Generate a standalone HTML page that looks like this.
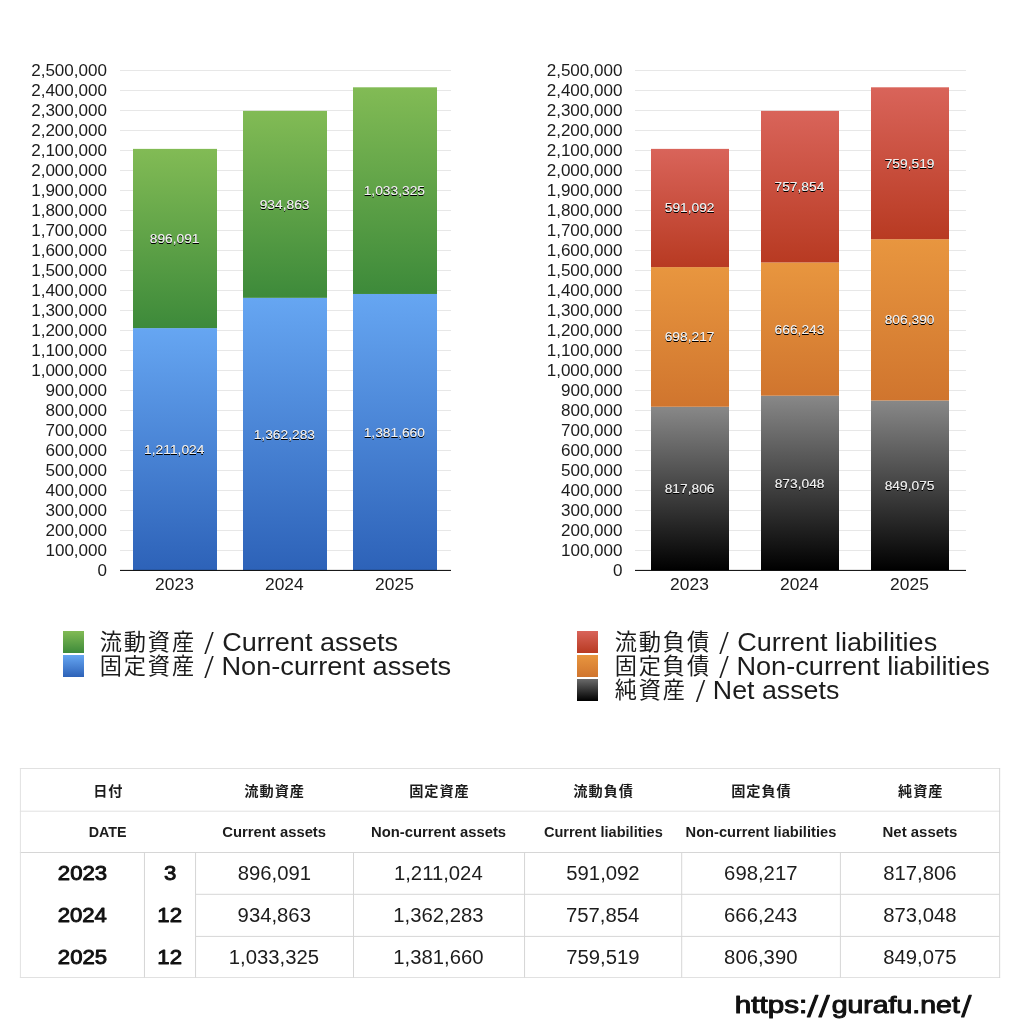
<!DOCTYPE html>
<html lang="ja"><head><meta charset="utf-8"><title>Balance sheet</title>
<style>html,body{margin:0;padding:0;background:#fff}svg{display:block}text{font-family:"Liberation Sans","Noto Sans CJK JP",sans-serif;white-space:pre}</style></head>
<body><svg width="1024" height="1024" viewBox="0 0 1024 1024"><defs><linearGradient id="gG" x1="0" y1="0" x2="0" y2="1"><stop offset="0" stop-color="#82bb55"/><stop offset="1" stop-color="#3d8a3a"/></linearGradient><linearGradient id="gB" x1="0" y1="0" x2="0" y2="1"><stop offset="0" stop-color="#66a6f2"/><stop offset="1" stop-color="#2d62b8"/></linearGradient><linearGradient id="gR" x1="0" y1="0" x2="0" y2="1"><stop offset="0" stop-color="#d9645a"/><stop offset="1" stop-color="#b83a22"/></linearGradient><linearGradient id="gO" x1="0" y1="0" x2="0" y2="1"><stop offset="0" stop-color="#e8963f"/><stop offset="1" stop-color="#d0752e"/></linearGradient><linearGradient id="gK" x1="0" y1="0" x2="0" y2="1"><stop offset="0" stop-color="#888888"/><stop offset="1" stop-color="#000000"/></linearGradient><linearGradient id="gK2" x1="0" y1="0" x2="0" y2="1"><stop offset="0" stop-color="#6a6a6a"/><stop offset="1" stop-color="#000000"/></linearGradient><filter id="sh" x="-20%" y="-50%" width="140%" height="200%"><feGaussianBlur in="SourceAlpha" stdDeviation="0.75" result="b"/><feOffset in="b" dx="0" dy="0.7" result="o"/><feComponentTransfer in="o" result="s"><feFuncA type="linear" slope="1.6"/></feComponentTransfer><feMerge><feMergeNode in="s"/><feMergeNode in="SourceGraphic"/></feMerge></filter></defs>
<rect width="1024" height="1024" fill="#fff"/>
<rect x="120.00" y="70.00" width="331.00" height="1.00" fill="#e7e7e7" />
<rect x="120.00" y="90.00" width="331.00" height="1.00" fill="#e7e7e7" />
<rect x="120.00" y="110.00" width="331.00" height="1.00" fill="#e7e7e7" />
<rect x="120.00" y="130.00" width="331.00" height="1.00" fill="#e7e7e7" />
<rect x="120.00" y="150.00" width="331.00" height="1.00" fill="#e7e7e7" />
<rect x="120.00" y="170.00" width="331.00" height="1.00" fill="#e7e7e7" />
<rect x="120.00" y="190.00" width="331.00" height="1.00" fill="#e7e7e7" />
<rect x="120.00" y="210.00" width="331.00" height="1.00" fill="#e7e7e7" />
<rect x="120.00" y="230.00" width="331.00" height="1.00" fill="#e7e7e7" />
<rect x="120.00" y="250.00" width="331.00" height="1.00" fill="#e7e7e7" />
<rect x="120.00" y="270.00" width="331.00" height="1.00" fill="#e7e7e7" />
<rect x="120.00" y="290.00" width="331.00" height="1.00" fill="#e7e7e7" />
<rect x="120.00" y="310.00" width="331.00" height="1.00" fill="#e7e7e7" />
<rect x="120.00" y="330.00" width="331.00" height="1.00" fill="#e7e7e7" />
<rect x="120.00" y="350.00" width="331.00" height="1.00" fill="#e7e7e7" />
<rect x="120.00" y="370.00" width="331.00" height="1.00" fill="#e7e7e7" />
<rect x="120.00" y="390.00" width="331.00" height="1.00" fill="#e7e7e7" />
<rect x="120.00" y="410.00" width="331.00" height="1.00" fill="#e7e7e7" />
<rect x="120.00" y="430.00" width="331.00" height="1.00" fill="#e7e7e7" />
<rect x="120.00" y="450.00" width="331.00" height="1.00" fill="#e7e7e7" />
<rect x="120.00" y="470.00" width="331.00" height="1.00" fill="#e7e7e7" />
<rect x="120.00" y="490.00" width="331.00" height="1.00" fill="#e7e7e7" />
<rect x="120.00" y="510.00" width="331.00" height="1.00" fill="#e7e7e7" />
<rect x="120.00" y="530.00" width="331.00" height="1.00" fill="#e7e7e7" />
<rect x="120.00" y="550.00" width="331.00" height="1.00" fill="#e7e7e7" />
<text x="31.16" y="75.60" font-size="15.80" font-weight="400" fill="#1c1c1c" textLength="75.91" lengthAdjust="spacingAndGlyphs" >2,500,000</text>
<text x="31.16" y="95.60" font-size="15.80" font-weight="400" fill="#1c1c1c" textLength="75.91" lengthAdjust="spacingAndGlyphs" >2,400,000</text>
<text x="31.16" y="115.60" font-size="15.80" font-weight="400" fill="#1c1c1c" textLength="75.91" lengthAdjust="spacingAndGlyphs" >2,300,000</text>
<text x="31.16" y="135.60" font-size="15.80" font-weight="400" fill="#1c1c1c" textLength="75.91" lengthAdjust="spacingAndGlyphs" >2,200,000</text>
<text x="31.16" y="155.60" font-size="15.80" font-weight="400" fill="#1c1c1c" textLength="75.91" lengthAdjust="spacingAndGlyphs" >2,100,000</text>
<text x="31.16" y="175.60" font-size="15.80" font-weight="400" fill="#1c1c1c" textLength="75.91" lengthAdjust="spacingAndGlyphs" >2,000,000</text>
<text x="31.16" y="195.60" font-size="15.80" font-weight="400" fill="#1c1c1c" textLength="75.91" lengthAdjust="spacingAndGlyphs" >1,900,000</text>
<text x="31.16" y="215.60" font-size="15.80" font-weight="400" fill="#1c1c1c" textLength="75.91" lengthAdjust="spacingAndGlyphs" >1,800,000</text>
<text x="31.16" y="235.60" font-size="15.80" font-weight="400" fill="#1c1c1c" textLength="75.91" lengthAdjust="spacingAndGlyphs" >1,700,000</text>
<text x="31.16" y="255.60" font-size="15.80" font-weight="400" fill="#1c1c1c" textLength="75.91" lengthAdjust="spacingAndGlyphs" >1,600,000</text>
<text x="31.16" y="275.60" font-size="15.80" font-weight="400" fill="#1c1c1c" textLength="75.91" lengthAdjust="spacingAndGlyphs" >1,500,000</text>
<text x="31.16" y="295.60" font-size="15.80" font-weight="400" fill="#1c1c1c" textLength="75.91" lengthAdjust="spacingAndGlyphs" >1,400,000</text>
<text x="31.16" y="315.60" font-size="15.80" font-weight="400" fill="#1c1c1c" textLength="75.91" lengthAdjust="spacingAndGlyphs" >1,300,000</text>
<text x="31.16" y="335.60" font-size="15.80" font-weight="400" fill="#1c1c1c" textLength="75.91" lengthAdjust="spacingAndGlyphs" >1,200,000</text>
<text x="31.16" y="355.60" font-size="15.80" font-weight="400" fill="#1c1c1c" textLength="75.91" lengthAdjust="spacingAndGlyphs" >1,100,000</text>
<text x="31.16" y="375.60" font-size="15.80" font-weight="400" fill="#1c1c1c" textLength="75.91" lengthAdjust="spacingAndGlyphs" >1,000,000</text>
<text x="45.41" y="395.60" font-size="15.80" font-weight="400" fill="#1c1c1c" textLength="61.68" lengthAdjust="spacingAndGlyphs" >900,000</text>
<text x="45.41" y="415.60" font-size="15.80" font-weight="400" fill="#1c1c1c" textLength="61.68" lengthAdjust="spacingAndGlyphs" >800,000</text>
<text x="45.41" y="435.60" font-size="15.80" font-weight="400" fill="#1c1c1c" textLength="61.68" lengthAdjust="spacingAndGlyphs" >700,000</text>
<text x="45.41" y="455.60" font-size="15.80" font-weight="400" fill="#1c1c1c" textLength="61.68" lengthAdjust="spacingAndGlyphs" >600,000</text>
<text x="45.41" y="475.60" font-size="15.80" font-weight="400" fill="#1c1c1c" textLength="61.68" lengthAdjust="spacingAndGlyphs" >500,000</text>
<text x="45.41" y="495.60" font-size="15.80" font-weight="400" fill="#1c1c1c" textLength="61.68" lengthAdjust="spacingAndGlyphs" >400,000</text>
<text x="45.41" y="515.60" font-size="15.80" font-weight="400" fill="#1c1c1c" textLength="61.68" lengthAdjust="spacingAndGlyphs" >300,000</text>
<text x="45.41" y="535.60" font-size="15.80" font-weight="400" fill="#1c1c1c" textLength="61.68" lengthAdjust="spacingAndGlyphs" >200,000</text>
<text x="45.41" y="555.60" font-size="15.80" font-weight="400" fill="#1c1c1c" textLength="61.68" lengthAdjust="spacingAndGlyphs" >100,000</text>
<text x="97.63" y="575.60" font-size="15.80" font-weight="400" fill="#1c1c1c" textLength="9.49" lengthAdjust="spacingAndGlyphs" >0</text>
<rect x="133.00" y="328.10" width="84.00" height="242.20" fill="url(#gB)" />
<rect x="133.00" y="148.88" width="84.00" height="179.22" fill="url(#gG)" />
<rect x="243.00" y="297.84" width="84.00" height="272.46" fill="url(#gB)" />
<rect x="243.00" y="110.87" width="84.00" height="186.97" fill="url(#gG)" />
<rect x="353.00" y="293.97" width="84.00" height="276.33" fill="url(#gB)" />
<rect x="353.00" y="87.30" width="84.00" height="206.67" fill="url(#gG)" />
<rect x="120.00" y="569.90" width="331.00" height="1.00" fill="#000" />
<text x="144.11" y="453.70" font-size="13.00" font-weight="400" fill="#fff" textLength="60.28" lengthAdjust="spacingAndGlyphs" fill-opacity="0.88" filter="url(#sh)">1,211,024</text>
<text x="149.73" y="242.99" font-size="13.00" font-weight="400" fill="#fff" textLength="49.81" lengthAdjust="spacingAndGlyphs" fill-opacity="0.88" filter="url(#sh)">896,091</text>
<text x="155.09" y="589.70" font-size="16.20" font-weight="400" fill="#1c1c1c" textLength="38.74" lengthAdjust="spacingAndGlyphs" >2023</text>
<text x="253.70" y="438.57" font-size="13.00" font-weight="400" fill="#fff" textLength="61.30" lengthAdjust="spacingAndGlyphs" fill-opacity="0.88" filter="url(#sh)">1,362,283</text>
<text x="259.66" y="208.86" font-size="13.00" font-weight="400" fill="#fff" textLength="49.81" lengthAdjust="spacingAndGlyphs" fill-opacity="0.88" filter="url(#sh)">934,863</text>
<text x="264.96" y="589.70" font-size="16.20" font-weight="400" fill="#1c1c1c" textLength="38.74" lengthAdjust="spacingAndGlyphs" >2024</text>
<text x="363.66" y="436.63" font-size="13.00" font-weight="400" fill="#fff" textLength="61.30" lengthAdjust="spacingAndGlyphs" fill-opacity="0.88" filter="url(#sh)">1,381,660</text>
<text x="363.70" y="195.14" font-size="13.00" font-weight="400" fill="#fff" textLength="61.30" lengthAdjust="spacingAndGlyphs" fill-opacity="0.88" filter="url(#sh)">1,033,325</text>
<text x="375.09" y="589.70" font-size="16.20" font-weight="400" fill="#1c1c1c" textLength="38.74" lengthAdjust="spacingAndGlyphs" >2025</text>
<rect x="635.00" y="70.00" width="331.00" height="1.00" fill="#e7e7e7" />
<rect x="635.00" y="90.00" width="331.00" height="1.00" fill="#e7e7e7" />
<rect x="635.00" y="110.00" width="331.00" height="1.00" fill="#e7e7e7" />
<rect x="635.00" y="130.00" width="331.00" height="1.00" fill="#e7e7e7" />
<rect x="635.00" y="150.00" width="331.00" height="1.00" fill="#e7e7e7" />
<rect x="635.00" y="170.00" width="331.00" height="1.00" fill="#e7e7e7" />
<rect x="635.00" y="190.00" width="331.00" height="1.00" fill="#e7e7e7" />
<rect x="635.00" y="210.00" width="331.00" height="1.00" fill="#e7e7e7" />
<rect x="635.00" y="230.00" width="331.00" height="1.00" fill="#e7e7e7" />
<rect x="635.00" y="250.00" width="331.00" height="1.00" fill="#e7e7e7" />
<rect x="635.00" y="270.00" width="331.00" height="1.00" fill="#e7e7e7" />
<rect x="635.00" y="290.00" width="331.00" height="1.00" fill="#e7e7e7" />
<rect x="635.00" y="310.00" width="331.00" height="1.00" fill="#e7e7e7" />
<rect x="635.00" y="330.00" width="331.00" height="1.00" fill="#e7e7e7" />
<rect x="635.00" y="350.00" width="331.00" height="1.00" fill="#e7e7e7" />
<rect x="635.00" y="370.00" width="331.00" height="1.00" fill="#e7e7e7" />
<rect x="635.00" y="390.00" width="331.00" height="1.00" fill="#e7e7e7" />
<rect x="635.00" y="410.00" width="331.00" height="1.00" fill="#e7e7e7" />
<rect x="635.00" y="430.00" width="331.00" height="1.00" fill="#e7e7e7" />
<rect x="635.00" y="450.00" width="331.00" height="1.00" fill="#e7e7e7" />
<rect x="635.00" y="470.00" width="331.00" height="1.00" fill="#e7e7e7" />
<rect x="635.00" y="490.00" width="331.00" height="1.00" fill="#e7e7e7" />
<rect x="635.00" y="510.00" width="331.00" height="1.00" fill="#e7e7e7" />
<rect x="635.00" y="530.00" width="331.00" height="1.00" fill="#e7e7e7" />
<rect x="635.00" y="550.00" width="331.00" height="1.00" fill="#e7e7e7" />
<text x="546.66" y="75.60" font-size="15.80" font-weight="400" fill="#1c1c1c" textLength="75.91" lengthAdjust="spacingAndGlyphs" >2,500,000</text>
<text x="546.66" y="95.60" font-size="15.80" font-weight="400" fill="#1c1c1c" textLength="75.91" lengthAdjust="spacingAndGlyphs" >2,400,000</text>
<text x="546.66" y="115.60" font-size="15.80" font-weight="400" fill="#1c1c1c" textLength="75.91" lengthAdjust="spacingAndGlyphs" >2,300,000</text>
<text x="546.66" y="135.60" font-size="15.80" font-weight="400" fill="#1c1c1c" textLength="75.91" lengthAdjust="spacingAndGlyphs" >2,200,000</text>
<text x="546.66" y="155.60" font-size="15.80" font-weight="400" fill="#1c1c1c" textLength="75.91" lengthAdjust="spacingAndGlyphs" >2,100,000</text>
<text x="546.66" y="175.60" font-size="15.80" font-weight="400" fill="#1c1c1c" textLength="75.91" lengthAdjust="spacingAndGlyphs" >2,000,000</text>
<text x="546.66" y="195.60" font-size="15.80" font-weight="400" fill="#1c1c1c" textLength="75.91" lengthAdjust="spacingAndGlyphs" >1,900,000</text>
<text x="546.66" y="215.60" font-size="15.80" font-weight="400" fill="#1c1c1c" textLength="75.91" lengthAdjust="spacingAndGlyphs" >1,800,000</text>
<text x="546.66" y="235.60" font-size="15.80" font-weight="400" fill="#1c1c1c" textLength="75.91" lengthAdjust="spacingAndGlyphs" >1,700,000</text>
<text x="546.66" y="255.60" font-size="15.80" font-weight="400" fill="#1c1c1c" textLength="75.91" lengthAdjust="spacingAndGlyphs" >1,600,000</text>
<text x="546.66" y="275.60" font-size="15.80" font-weight="400" fill="#1c1c1c" textLength="75.91" lengthAdjust="spacingAndGlyphs" >1,500,000</text>
<text x="546.66" y="295.60" font-size="15.80" font-weight="400" fill="#1c1c1c" textLength="75.91" lengthAdjust="spacingAndGlyphs" >1,400,000</text>
<text x="546.66" y="315.60" font-size="15.80" font-weight="400" fill="#1c1c1c" textLength="75.91" lengthAdjust="spacingAndGlyphs" >1,300,000</text>
<text x="546.66" y="335.60" font-size="15.80" font-weight="400" fill="#1c1c1c" textLength="75.91" lengthAdjust="spacingAndGlyphs" >1,200,000</text>
<text x="546.66" y="355.60" font-size="15.80" font-weight="400" fill="#1c1c1c" textLength="75.91" lengthAdjust="spacingAndGlyphs" >1,100,000</text>
<text x="546.66" y="375.60" font-size="15.80" font-weight="400" fill="#1c1c1c" textLength="75.91" lengthAdjust="spacingAndGlyphs" >1,000,000</text>
<text x="560.91" y="395.60" font-size="15.80" font-weight="400" fill="#1c1c1c" textLength="61.68" lengthAdjust="spacingAndGlyphs" >900,000</text>
<text x="560.91" y="415.60" font-size="15.80" font-weight="400" fill="#1c1c1c" textLength="61.68" lengthAdjust="spacingAndGlyphs" >800,000</text>
<text x="560.91" y="435.60" font-size="15.80" font-weight="400" fill="#1c1c1c" textLength="61.68" lengthAdjust="spacingAndGlyphs" >700,000</text>
<text x="560.91" y="455.60" font-size="15.80" font-weight="400" fill="#1c1c1c" textLength="61.68" lengthAdjust="spacingAndGlyphs" >600,000</text>
<text x="560.91" y="475.60" font-size="15.80" font-weight="400" fill="#1c1c1c" textLength="61.68" lengthAdjust="spacingAndGlyphs" >500,000</text>
<text x="560.91" y="495.60" font-size="15.80" font-weight="400" fill="#1c1c1c" textLength="61.68" lengthAdjust="spacingAndGlyphs" >400,000</text>
<text x="560.91" y="515.60" font-size="15.80" font-weight="400" fill="#1c1c1c" textLength="61.68" lengthAdjust="spacingAndGlyphs" >300,000</text>
<text x="560.91" y="535.60" font-size="15.80" font-weight="400" fill="#1c1c1c" textLength="61.68" lengthAdjust="spacingAndGlyphs" >200,000</text>
<text x="560.91" y="555.60" font-size="15.80" font-weight="400" fill="#1c1c1c" textLength="61.68" lengthAdjust="spacingAndGlyphs" >100,000</text>
<text x="613.13" y="575.60" font-size="15.80" font-weight="400" fill="#1c1c1c" textLength="9.49" lengthAdjust="spacingAndGlyphs" >0</text>
<rect x="651.00" y="406.74" width="78.00" height="163.56" fill="url(#gK)" />
<rect x="651.00" y="267.10" width="78.00" height="139.64" fill="url(#gO)" />
<rect x="651.00" y="148.88" width="78.00" height="118.22" fill="url(#gR)" />
<rect x="761.00" y="395.69" width="78.00" height="174.61" fill="url(#gK)" />
<rect x="761.00" y="262.44" width="78.00" height="133.25" fill="url(#gO)" />
<rect x="761.00" y="110.87" width="78.00" height="151.57" fill="url(#gR)" />
<rect x="871.00" y="400.48" width="78.00" height="169.81" fill="url(#gK)" />
<rect x="871.00" y="239.21" width="78.00" height="161.28" fill="url(#gO)" />
<rect x="871.00" y="87.30" width="78.00" height="151.90" fill="url(#gR)" />
<rect x="635.00" y="569.90" width="331.00" height="1.00" fill="#000" />
<text x="664.69" y="493.02" font-size="13.00" font-weight="400" fill="#fff" textLength="49.81" lengthAdjust="spacingAndGlyphs" fill-opacity="0.88" filter="url(#sh)">817,806</text>
<text x="664.66" y="341.42" font-size="13.00" font-weight="400" fill="#fff" textLength="49.81" lengthAdjust="spacingAndGlyphs" fill-opacity="0.88" filter="url(#sh)">698,217</text>
<text x="664.73" y="212.49" font-size="13.00" font-weight="400" fill="#fff" textLength="49.81" lengthAdjust="spacingAndGlyphs" fill-opacity="0.88" filter="url(#sh)">591,092</text>
<text x="670.09" y="589.70" font-size="16.20" font-weight="400" fill="#1c1c1c" textLength="38.74" lengthAdjust="spacingAndGlyphs" >2023</text>
<text x="774.69" y="487.50" font-size="13.00" font-weight="400" fill="#fff" textLength="49.81" lengthAdjust="spacingAndGlyphs" fill-opacity="0.88" filter="url(#sh)">873,048</text>
<text x="774.62" y="333.57" font-size="13.00" font-weight="400" fill="#fff" textLength="49.81" lengthAdjust="spacingAndGlyphs" fill-opacity="0.88" filter="url(#sh)">666,243</text>
<text x="774.52" y="191.16" font-size="13.00" font-weight="400" fill="#fff" textLength="49.81" lengthAdjust="spacingAndGlyphs" fill-opacity="0.88" filter="url(#sh)">757,854</text>
<text x="779.96" y="589.70" font-size="16.20" font-weight="400" fill="#1c1c1c" textLength="38.74" lengthAdjust="spacingAndGlyphs" >2024</text>
<text x="884.69" y="489.89" font-size="13.00" font-weight="400" fill="#fff" textLength="49.81" lengthAdjust="spacingAndGlyphs" fill-opacity="0.88" filter="url(#sh)">849,075</text>
<text x="884.66" y="324.35" font-size="13.00" font-weight="400" fill="#fff" textLength="49.81" lengthAdjust="spacingAndGlyphs" fill-opacity="0.88" filter="url(#sh)">806,390</text>
<text x="884.66" y="167.76" font-size="13.00" font-weight="400" fill="#fff" textLength="49.81" lengthAdjust="spacingAndGlyphs" fill-opacity="0.88" filter="url(#sh)">759,519</text>
<text x="890.09" y="589.70" font-size="16.20" font-weight="400" fill="#1c1c1c" textLength="38.74" lengthAdjust="spacingAndGlyphs" >2025</text>
<rect x="63.00" y="631.00" width="21.00" height="22.00" fill="url(#gG)" />
<text x="99.70" y="650.30" font-size="22.20" font-weight="400" fill="#1c1c1c" text-anchor="start" letter-spacing="1.9">流動資産</text>
<text x="204.00" y="650.30" font-size="22.6" fill="#1c1c1c" style="font-family:'Noto Sans CJK JP','Liberation Sans',sans-serif" textLength="10.12" lengthAdjust="spacingAndGlyphs">/</text>
<text x="222.25" y="650.50" font-size="25.30" font-weight="400" fill="#1c1c1c" textLength="175.83" lengthAdjust="spacingAndGlyphs" >Current assets</text>
<rect x="63.00" y="655.00" width="21.00" height="22.00" fill="url(#gB)" />
<text x="99.70" y="674.30" font-size="22.20" font-weight="400" fill="#1c1c1c" text-anchor="start" letter-spacing="1.9">固定資産</text>
<text x="204.00" y="674.30" font-size="22.6" fill="#1c1c1c" style="font-family:'Noto Sans CJK JP','Liberation Sans',sans-serif" textLength="10.12" lengthAdjust="spacingAndGlyphs">/</text>
<text x="221.42" y="674.50" font-size="25.30" font-weight="400" fill="#1c1c1c" textLength="229.77" lengthAdjust="spacingAndGlyphs" >Non-current assets</text>
<rect x="577.00" y="631.00" width="21.00" height="22.00" fill="url(#gR)" />
<text x="614.70" y="650.30" font-size="22.20" font-weight="400" fill="#1c1c1c" text-anchor="start" letter-spacing="1.9">流動負債</text>
<text x="719.00" y="650.30" font-size="22.6" fill="#1c1c1c" style="font-family:'Noto Sans CJK JP','Liberation Sans',sans-serif" textLength="10.12" lengthAdjust="spacingAndGlyphs">/</text>
<text x="737.25" y="650.50" font-size="25.30" font-weight="400" fill="#1c1c1c" textLength="199.95" lengthAdjust="spacingAndGlyphs" >Current liabilities</text>
<rect x="577.00" y="655.00" width="21.00" height="22.00" fill="url(#gO)" />
<text x="614.70" y="674.30" font-size="22.20" font-weight="400" fill="#1c1c1c" text-anchor="start" letter-spacing="1.9">固定負債</text>
<text x="719.00" y="674.30" font-size="22.6" fill="#1c1c1c" style="font-family:'Noto Sans CJK JP','Liberation Sans',sans-serif" textLength="10.12" lengthAdjust="spacingAndGlyphs">/</text>
<text x="736.43" y="674.50" font-size="25.30" font-weight="400" fill="#1c1c1c" textLength="253.38" lengthAdjust="spacingAndGlyphs" >Non-current liabilities</text>
<rect x="577.00" y="679.00" width="21.00" height="22.00" fill="url(#gK2)" />
<text x="614.70" y="698.30" font-size="22.20" font-weight="400" fill="#1c1c1c" text-anchor="start" letter-spacing="1.9">純資産</text>
<text x="695.50" y="698.30" font-size="22.6" fill="#1c1c1c" style="font-family:'Noto Sans CJK JP','Liberation Sans',sans-serif" textLength="10.12" lengthAdjust="spacingAndGlyphs">/</text>
<text x="712.86" y="698.50" font-size="25.30" font-weight="400" fill="#1c1c1c" textLength="126.46" lengthAdjust="spacingAndGlyphs" >Net assets</text>
<rect x="19.90" y="768.00" width="980.20" height="1.00" fill="#e1e1e1" />
<rect x="19.90" y="810.70" width="980.20" height="1.00" fill="#e1e1e1" />
<rect x="19.90" y="852.00" width="980.20" height="1.00" fill="#d6d6d6" />
<rect x="19.90" y="977.00" width="980.20" height="1.00" fill="#e1e1e1" />
<rect x="195.55" y="893.80" width="804.10" height="1.00" fill="#d6d6d6" />
<rect x="195.55" y="935.90" width="804.10" height="1.00" fill="#d6d6d6" />
<rect x="19.90" y="768.00" width="1.00" height="210.00" fill="#e1e1e1" />
<rect x="999.15" y="768.00" width="1.00" height="210.00" fill="#d6d6d6" />
<rect x="143.95" y="852.50" width="1.00" height="125.00" fill="#d6d6d6" />
<rect x="195.05" y="852.50" width="1.00" height="125.00" fill="#d6d6d6" />
<rect x="353.00" y="852.50" width="1.00" height="125.00" fill="#d6d6d6" />
<rect x="524.05" y="852.50" width="1.00" height="125.00" fill="#d6d6d6" />
<rect x="681.20" y="852.50" width="1.00" height="125.00" fill="#d6d6d6" />
<rect x="839.90" y="852.50" width="1.00" height="125.00" fill="#d6d6d6" />
<text x="108.35" y="795.50" font-size="14.20" font-weight="700" fill="#1c1c1c" text-anchor="middle" letter-spacing="0.95">日付</text>
<text x="88.77" y="837.00" font-size="15.00" font-weight="700" fill="#1c1c1c" textLength="37.87" lengthAdjust="spacingAndGlyphs" >DATE</text>
<text x="274.65" y="795.50" font-size="14.20" font-weight="700" fill="#1c1c1c" text-anchor="middle" letter-spacing="0.95">流動資産</text>
<text x="222.21" y="837.00" font-size="15.00" font-weight="700" fill="#1c1c1c" textLength="103.86" lengthAdjust="spacingAndGlyphs" >Current assets</text>
<text x="439.45" y="795.50" font-size="14.20" font-weight="700" fill="#1c1c1c" text-anchor="middle" letter-spacing="0.95">固定資産</text>
<text x="370.94" y="837.00" font-size="15.00" font-weight="700" fill="#1c1c1c" textLength="135.17" lengthAdjust="spacingAndGlyphs" >Non-current assets</text>
<text x="603.65" y="795.50" font-size="14.20" font-weight="700" fill="#1c1c1c" text-anchor="middle" letter-spacing="0.95">流動負債</text>
<text x="543.92" y="837.00" font-size="15.00" font-weight="700" fill="#1c1c1c" textLength="118.84" lengthAdjust="spacingAndGlyphs" >Current liabilities</text>
<text x="761.45" y="795.50" font-size="14.20" font-weight="700" fill="#1c1c1c" text-anchor="middle" letter-spacing="0.95">固定負債</text>
<text x="685.55" y="837.00" font-size="15.00" font-weight="700" fill="#1c1c1c" textLength="150.76" lengthAdjust="spacingAndGlyphs" >Non-current liabilities</text>
<text x="920.75" y="795.50" font-size="14.20" font-weight="700" fill="#1c1c1c" text-anchor="middle" letter-spacing="0.95">純資産</text>
<text x="882.53" y="837.00" font-size="15.00" font-weight="700" fill="#1c1c1c" textLength="74.84" lengthAdjust="spacingAndGlyphs" >Net assets</text>
<text x="57.85" y="879.70" font-size="19.60" font-weight="400" fill="#111" textLength="49.27" lengthAdjust="spacingAndGlyphs" stroke="#111" stroke-width="0.9" stroke-linejoin="round">2023</text>
<text x="163.91" y="879.70" font-size="19.60" font-weight="400" fill="#111" textLength="12.32" lengthAdjust="spacingAndGlyphs" stroke="#111" stroke-width="0.9" stroke-linejoin="round">3</text>
<text x="237.70" y="879.70" font-size="19.70" font-weight="400" fill="#1c1c1c" textLength="73.35" lengthAdjust="spacingAndGlyphs" >896,091</text>
<text x="393.93" y="879.70" font-size="19.70" font-weight="400" fill="#1c1c1c" textLength="88.77" lengthAdjust="spacingAndGlyphs" >1,211,024</text>
<text x="566.30" y="879.70" font-size="19.70" font-weight="400" fill="#1c1c1c" textLength="73.35" lengthAdjust="spacingAndGlyphs" >591,092</text>
<text x="724.12" y="879.70" font-size="19.70" font-weight="400" fill="#1c1c1c" textLength="73.35" lengthAdjust="spacingAndGlyphs" >698,217</text>
<text x="883.15" y="879.70" font-size="19.70" font-weight="400" fill="#1c1c1c" textLength="73.35" lengthAdjust="spacingAndGlyphs" >817,806</text>
<text x="57.68" y="921.70" font-size="19.60" font-weight="400" fill="#111" textLength="49.27" lengthAdjust="spacingAndGlyphs" stroke="#111" stroke-width="0.9" stroke-linejoin="round">2024</text>
<text x="157.38" y="921.70" font-size="19.60" font-weight="400" fill="#111" textLength="24.64" lengthAdjust="spacingAndGlyphs" stroke="#111" stroke-width="0.9" stroke-linejoin="round">12</text>
<text x="237.60" y="921.70" font-size="19.70" font-weight="400" fill="#1c1c1c" textLength="73.35" lengthAdjust="spacingAndGlyphs" >934,863</text>
<text x="393.32" y="921.70" font-size="19.70" font-weight="400" fill="#1c1c1c" textLength="90.27" lengthAdjust="spacingAndGlyphs" >1,362,283</text>
<text x="566.00" y="921.70" font-size="19.70" font-weight="400" fill="#1c1c1c" textLength="73.35" lengthAdjust="spacingAndGlyphs" >757,854</text>
<text x="724.07" y="921.70" font-size="19.70" font-weight="400" fill="#1c1c1c" textLength="73.35" lengthAdjust="spacingAndGlyphs" >666,243</text>
<text x="883.15" y="921.70" font-size="19.70" font-weight="400" fill="#1c1c1c" textLength="73.35" lengthAdjust="spacingAndGlyphs" >873,048</text>
<text x="57.85" y="963.70" font-size="19.60" font-weight="400" fill="#111" textLength="49.27" lengthAdjust="spacingAndGlyphs" stroke="#111" stroke-width="0.9" stroke-linejoin="round">2025</text>
<text x="157.38" y="963.70" font-size="19.60" font-weight="400" fill="#111" textLength="24.64" lengthAdjust="spacingAndGlyphs" stroke="#111" stroke-width="0.9" stroke-linejoin="round">12</text>
<text x="228.82" y="963.70" font-size="19.70" font-weight="400" fill="#1c1c1c" textLength="90.27" lengthAdjust="spacingAndGlyphs" >1,033,325</text>
<text x="393.27" y="963.70" font-size="19.70" font-weight="400" fill="#1c1c1c" textLength="90.27" lengthAdjust="spacingAndGlyphs" >1,381,660</text>
<text x="566.20" y="963.70" font-size="19.70" font-weight="400" fill="#1c1c1c" textLength="73.35" lengthAdjust="spacingAndGlyphs" >759,519</text>
<text x="724.12" y="963.70" font-size="19.70" font-weight="400" fill="#1c1c1c" textLength="73.35" lengthAdjust="spacingAndGlyphs" >806,390</text>
<text x="883.15" y="963.70" font-size="19.70" font-weight="400" fill="#1c1c1c" textLength="73.35" lengthAdjust="spacingAndGlyphs" >849,075</text>
<text y="1012.9" font-size="23.6" font-weight="400" fill="#111" stroke="#111" stroke-width="1.0" stroke-linejoin="round"><tspan x="734.77" textLength="72.47" lengthAdjust="spacingAndGlyphs">https:</tspan><tspan x="807.05" font-weight="500" style="font-family:'Noto Sans CJK JP','Liberation Sans',sans-serif" font-size="22.2" textLength="23.15" lengthAdjust="spacingAndGlyphs">//</tspan><tspan x="831.66" textLength="128.14" lengthAdjust="spacingAndGlyphs">gurafu.net</tspan><tspan x="961.28" font-weight="500" style="font-family:'Noto Sans CJK JP','Liberation Sans',sans-serif" font-size="22.2" textLength="10.59" lengthAdjust="spacingAndGlyphs">/</tspan></text>
</svg></body></html>
